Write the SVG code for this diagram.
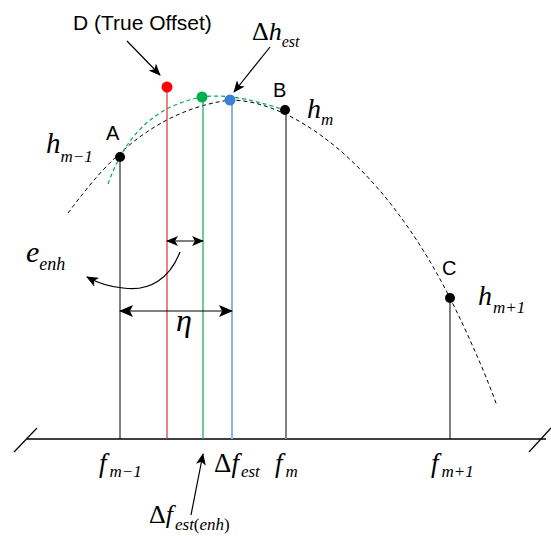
<svg xmlns="http://www.w3.org/2000/svg" width="551" height="536" viewBox="0 0 551 536">
<defs>
<marker id="ah" viewBox="0 0 12 10" refX="11" refY="5" markerWidth="12" markerHeight="10" markerUnits="userSpaceOnUse" orient="auto-start-reverse">
<path d="M0,0 L12,5 L0,10 L3,5 z" fill="#000"/>
</marker>
<marker id="ahb" viewBox="0 0 14 12" refX="13" refY="6" markerWidth="14" markerHeight="12" markerUnits="userSpaceOnUse" orient="auto-start-reverse">
<path d="M0,0 L14,6 L0,12 L3,6 z" fill="#000"/>
</marker>
<style>
.dash{fill:none;stroke:#000;stroke-width:1;stroke-dasharray:4,3}
.gdash{fill:none;stroke:#00b050;stroke-width:1.2;stroke-dasharray:4,3}
.arr{fill:none;stroke:#000;stroke-width:1.2}
</style>
</defs>
<g id="axis">
<line x1="27" y1="439" x2="546" y2="439" stroke="#000" stroke-width="1.5"/>
<line x1="14" y1="452" x2="37" y2="428" stroke="#000" stroke-width="1.2"/>
<line x1="529" y1="452" x2="551" y2="428" stroke="#000" stroke-width="1.2"/>
</g>
<g id="curves">
<path class="dash" d="M68,213 C92,182 140,112 230,100 C290,100 380,160 450,298 C470,338 488,380 497,406"/>
<path class="gdash" d="M108,184 C124,140 150,107 202,97 C232,93 262,103 285,110"/>
</g>
<g id="stems">
<line x1="120" y1="157" x2="120" y2="439" stroke="#000" stroke-width="1"/>
<line x1="167" y1="87" x2="167" y2="439" stroke="#e03030" stroke-width="1.2"/>
<line x1="203" y1="97" x2="203" y2="439" stroke="#00b050" stroke-width="1.2"/>
<line x1="232" y1="100" x2="232" y2="439" stroke="#8db3e2" stroke-width="2"/>
<line x1="286" y1="110" x2="286" y2="439" stroke="#808080" stroke-width="2"/>
<line x1="450" y1="298" x2="450" y2="439" stroke="#000" stroke-width="1"/>
</g>
<g id="nodeA"><circle cx="120" cy="157" r="5" fill="#000"/><text font-family="Liberation Sans, Arial, sans-serif" font-size="20" x="106" y="140">A</text></g>
<g id="nodeB"><circle cx="285" cy="110" r="5" fill="#000"/><text font-family="Liberation Sans, Arial, sans-serif" font-size="20" x="273" y="97">B</text></g>
<g id="nodeC"><circle cx="450" cy="298" r="5" fill="#000"/><text font-family="Liberation Sans, Arial, sans-serif" font-size="20" x="442" y="275">C</text></g>
<g id="nodeD"><circle cx="167" cy="87" r="5.5" fill="#ff0000"/><text font-family="Liberation Sans, Arial, sans-serif" font-size="21" x="73" y="30">D (True Offset)</text></g>
<g id="nodeEnh"><circle cx="202" cy="97" r="5.5" fill="#00b050"/></g>
<g id="nodeEst"><circle cx="230" cy="100" r="5.5" fill="#3d7fd6"/></g>
<g id="connectors">
<line class="arr" x1="127" y1="41" x2="160" y2="75" marker-end="url(#ah)"/>
<line class="arr" x1="270" y1="47" x2="234" y2="92" marker-end="url(#ah)"/>
<line class="arr" x1="191" y1="515" x2="203" y2="454" marker-end="url(#ah)"/>
<line class="arr" x1="167" y1="241" x2="203" y2="241" marker-start="url(#ah)" marker-end="url(#ah)"/>
<path class="arr" d="M180,252 C170,278 150,292 123,288 C110,287 98,283 87,277" marker-end="url(#ah)"/>
<line class="arr" x1="120" y1="311" x2="232" y2="311" stroke-width="1.5" marker-start="url(#ahb)" marker-end="url(#ahb)"/>
</g>
<g id="labels" fill="#000" font-family="Liberation Serif, Times New Roman, serif">
<text font-style="italic" x="46" y="153" font-size="29">h<tspan font-size="17" dy="9">m−1</tspan></text>
<text font-style="italic" x="307" y="118" font-size="28">h<tspan font-size="17" dy="7">m</tspan></text>
<text font-style="italic" x="478" y="305" font-size="28">h<tspan font-size="17" dy="8" dx="1">m+1</tspan></text>
<text x="252" y="40" font-size="26">Δ<tspan font-style="italic">h</tspan><tspan font-style="italic" font-size="16" dy="7">est</tspan></text>
<text font-style="italic" x="26" y="262" font-size="30">e<tspan font-size="18" dy="8">enh</tspan></text>
<text font-style="italic" x="176" y="331" font-size="32">η</text>
<text font-style="italic" x="99" y="472" font-size="27">f<tspan font-size="17" dy="5" dx="3">m−1</tspan></text>
<text x="214" y="472" font-size="27">Δ<tspan font-style="italic">f</tspan><tspan font-style="italic" font-size="17" dy="5" dx="2">est</tspan></text>
<text font-style="italic" x="275" y="472" font-size="27">f<tspan font-size="17" dy="5" dx="3">m</tspan></text>
<text font-style="italic" x="431" y="472" font-size="27">f<tspan font-size="17" dy="5" dx="3">m+1</tspan></text>
<text x="149" y="523" font-size="26">Δ<tspan font-style="italic">f</tspan><tspan font-style="italic" font-size="17" dy="7" dx="2">est</tspan><tspan font-size="17">(</tspan><tspan font-style="italic" font-size="17">enh</tspan><tspan font-size="17">)</tspan></text>
</g>
</svg>
